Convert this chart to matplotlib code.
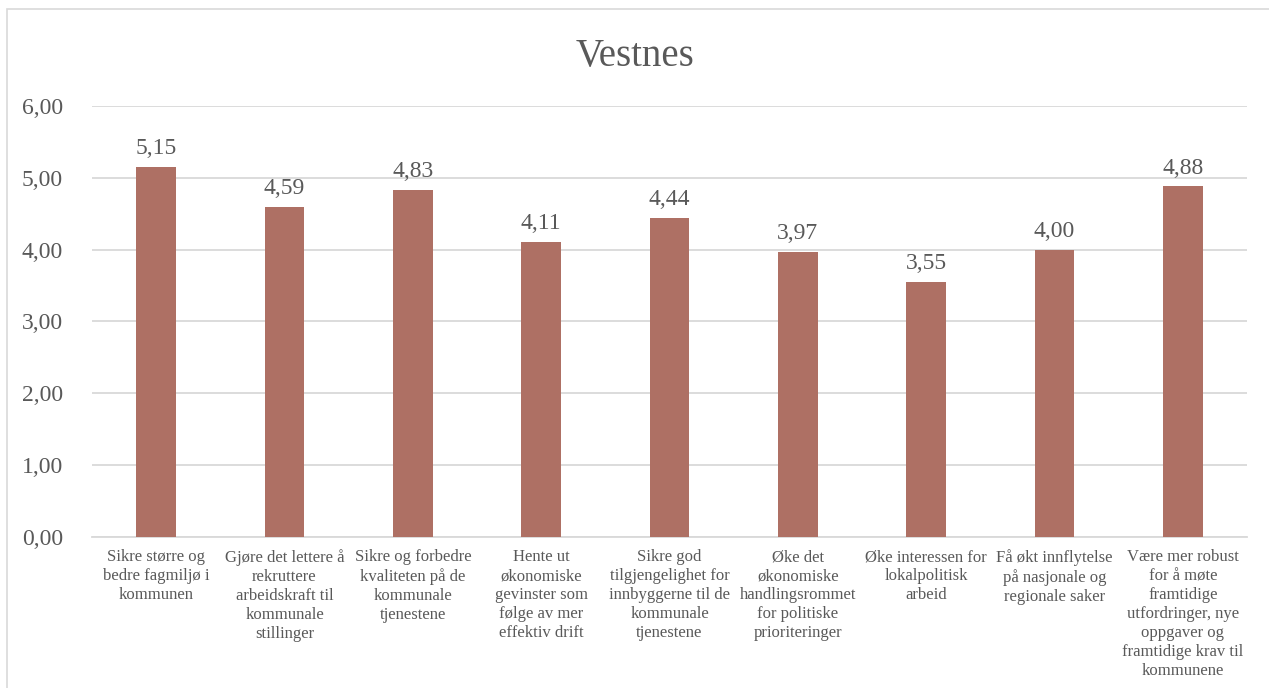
import matplotlib.pyplot as plt
from matplotlib.patches import Rectangle

# -----------------------------
# Data
# -----------------------------
title = "Vestnes"

categories = [
    "Sikre større og\nbedre fagmiljø i\nkommunen",
    "Gjøre det lettere å\nrekruttere\narbeidskraft til\nkommunale\nstillinger",
    "Sikre og forbedre\nkvaliteten på de\nkommunale\ntjenestene",
    "Hente ut\nøkonomiske\ngevinster som\nfølge av mer\neffektiv drift",
    "Sikre god\ntilgjengelighet for\ninnbyggerne til de\nkommunale\ntjenestene",
    "Øke det\nøkonomiske\nhandlingsrommet\nfor politiske\nprioriteringer",
    "Øke interessen for\nlokalpolitisk\narbeid",
    "Få økt innflytelse\npå nasjonale og\nregionale saker",
    "Være mer robust\nfor å møte\nframtidige\nutfordringer, nye\noppgaver og\nframtidige krav til\nkommunene",
]
values = [5.15, 4.59, 4.83, 4.11, 4.44, 3.97, 3.55, 4.00, 4.88]
y_ticks = [0, 1, 2, 3, 4, 5, 6]

# -----------------------------
# Style
# -----------------------------
bar_color = "#AE7064"
text_color = "#595959"
grid_color = "#D9D9D9"
font = ["Liberation Serif", "DejaVu Serif"]

plt.rcParams["font.family"] = font

fig = plt.figure(figsize=(12.69, 6.88), dpi=100)
ax = fig.add_axes([0.0725, 0.2195, 0.9102, 0.6265])

x = range(len(values))
ax.bar(x, values, width=0.31, color=bar_color, zorder=3)

for xi, v in zip(x, values):
    ax.text(xi, v + 0.11, f"{v:.2f}".replace(".", ","), ha="center", va="bottom",
            fontsize=17, color=text_color)

ax.set_ylim(0, 6)
ax.set_xlim(-0.5, len(values) - 0.5)
ax.set_yticks(y_ticks)
ax.set_yticklabels([f"{t:.2f}".replace(".", ",") for t in y_ticks],
                   fontsize=17, color=text_color)
ax.set_xticks(list(x))
ax.set_xticklabels(categories, fontsize=12, color=text_color, linespacing=1.24,
                   va="top")

ax.yaxis.grid(True, color=grid_color, linewidth=1.3, zorder=0)
ax.tick_params(axis="both", length=0)
ax.tick_params(axis="y", pad=21)
ax.tick_params(axis="x", pad=9)

for side in ["top", "right", "left"]:
    ax.spines[side].set_visible(False)
ax.spines["bottom"].set_color(grid_color)
ax.spines["bottom"].set_linewidth(1.3)

fig.text(0.5, 0.918, title, ha="center", va="center", fontsize=28, color=text_color)

# chart border
fig.patches.append(Rectangle((7 / 1269, -0.01), 1.02, 1 - 9 / 688 + 0.01,
                             transform=fig.transFigure, fill=False,
                             edgecolor=grid_color, linewidth=1.2))

fig.savefig("out.png", dpi=100)
